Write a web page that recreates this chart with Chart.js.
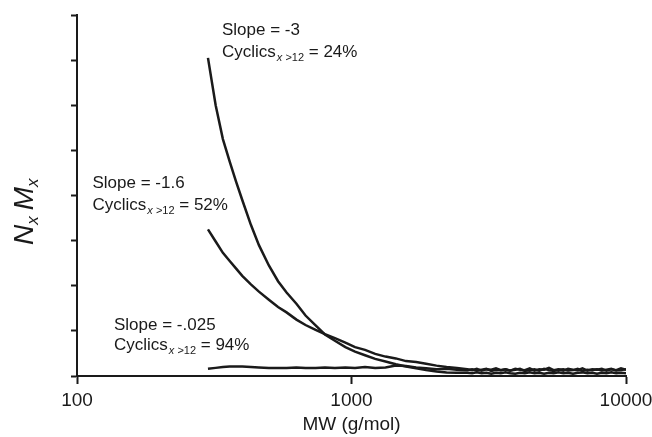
<!DOCTYPE html>
<html>
<head>
<meta charset="utf-8">
<script src="https://cdn.jsdelivr.net/npm/chart.js@4.4.1/dist/chart.umd.min.js"></script>
<style>
  body { margin: 0; background: #fff; }
  canvas { display: block; }
</style>
</head>
<body>
<canvas id="nmChart" width="652" height="437"></canvas>
<script>
// molecular weight grid (g/mol), shared by the three traces
const mw = [
  300, 320, 340, 360, 380, 400, 430, 460, 500, 540,
  580, 630, 680, 740, 800, 870, 950, 1030, 1120, 1220,
  1330, 1450, 1580, 1720, 1870, 2040, 2220, 2420,
  2640, 2750, 2860, 2980, 3100, 3230, 3360, 3500, 3640, 3790,
  3950, 4110, 4280, 4460, 4640, 4830, 5030, 5240, 5450, 5680,
  5910, 6150, 6410, 6670, 6940, 7230, 7530, 7840, 8160, 8490,
  8840, 9210, 9590, 10000
];

// Nx*Mx
const slopeMinus3 = [
  7.05, 6.0, 5.25, 4.75, 4.3, 3.9, 3.35, 2.9, 2.45, 2.1,
  1.85, 1.6, 1.34, 1.12, 0.92, 0.78, 0.64, 0.54, 0.46, 0.38,
  0.32, 0.26, 0.21, 0.17, 0.13, 0.10, 0.08, 0.07,
  0.07, 0.06, 0.08, 0.06, 0.07, 0.05, 0.07, 0.06, 0.08, 0.06,
  0.05, 0.07, 0.06, 0.08, 0.06, 0.07, 0.05, 0.07, 0.06, 0.08,
  0.06, 0.07, 0.05, 0.07, 0.08, 0.06, 0.07, 0.05, 0.07, 0.06,
  0.08, 0.06, 0.07, 0.06
];
const slopeMinus16 = [
  3.25, 2.98, 2.73, 2.55, 2.38, 2.22, 2.03, 1.87, 1.69, 1.53,
  1.41, 1.25, 1.13, 1.02, 0.93, 0.84, 0.74, 0.64, 0.58, 0.49,
  0.43, 0.39, 0.33, 0.31, 0.27, 0.23, 0.20, 0.18,
  0.15, 0.13, 0.16, 0.12, 0.15, 0.14, 0.17, 0.13, 0.15, 0.12,
  0.16, 0.14, 0.13, 0.17, 0.12, 0.15, 0.14, 0.18, 0.13, 0.15,
  0.12, 0.16, 0.14, 0.13, 0.17, 0.12, 0.15, 0.14, 0.16, 0.12,
  0.15, 0.13, 0.17, 0.14
];
const slopeMinus025 = [
  0.16, 0.18, 0.20, 0.21, 0.21, 0.21, 0.20, 0.19, 0.18, 0.18,
  0.18, 0.19, 0.18, 0.18, 0.19, 0.18, 0.19, 0.18, 0.20, 0.18,
  0.19, 0.23, 0.22, 0.19, 0.17, 0.15, 0.16, 0.14,
  0.13, 0.15, 0.12, 0.14, 0.16, 0.11, 0.14, 0.13, 0.15, 0.12,
  0.14, 0.16, 0.11, 0.13, 0.15, 0.12, 0.16, 0.13, 0.11, 0.14,
  0.15, 0.12, 0.13, 0.16, 0.11, 0.14, 0.13, 0.15, 0.12, 0.14,
  0.16, 0.12, 0.13, 0.15
];

const xTicks = [100, 1000, 10000];
const slopeLabels = ['Slope = -3', 'Slope = -1.6', 'Slope = -.025'];
const cyclicValues = ['24%', '52%', '94%'];

const FONT = '"Liberation Sans", Arial, sans-serif';
const INK = '#1a1a1a';

function toPoints(ys) {
  return mw.map((m, i) => ({ x: m, y: ys[i] }));
}

function lineSet(ys) {
  return {
    data: toPoints(ys),
    borderColor: INK,
    borderWidth: 2.5,
    pointRadius: 0,
    tension: 0,
    fill: false
  };
}

// "Cyclics_{x >12} = NN%" with the subscript drawn smaller and lower
function drawCyclics(ctx, x, y, pct) {
  ctx.font = '17px ' + FONT;
  ctx.fillText('Cyclics', x, y);
  x += ctx.measureText('Cyclics').width + 1;
  ctx.font = 'italic 11px ' + FONT;
  ctx.fillText('x', x, y + 4);
  x += ctx.measureText('x').width;
  ctx.font = '11px ' + FONT;
  ctx.fillText(' >12', x, y + 4);
  x += ctx.measureText(' >12').width;
  ctx.font = '17px ' + FONT;
  ctx.fillText(' = ' + pct, x, y);
}

const textPlugin = {
  id: 'textPlugin',
  afterDraw(chart) {
    const ctx = chart.ctx;
    ctx.save();
    ctx.fillStyle = INK;
    ctx.textBaseline = 'alphabetic';
    ctx.textAlign = 'left';

    const spots = [[222, 35, 56.5], [92.5, 188, 209.5], [114, 330, 350]];
    spots.forEach((s, i) => {
      ctx.font = '17px ' + FONT;
      ctx.fillText(slopeLabels[i], s[0], s[1]);
      drawCyclics(ctx, s[0], s[2], cyclicValues[i]);
    });

    // rotated y title: N_x M_x
    ctx.translate(33, 245);
    ctx.rotate(-Math.PI / 2);
    let x = 0;
    ctx.font = 'italic 28px ' + FONT;
    ctx.fillText('N', x, 0);
    x += ctx.measureText('N').width;
    ctx.font = 'italic 17px ' + FONT;
    ctx.fillText('x', x, 5);
    x += ctx.measureText('x').width + 6;
    ctx.font = 'italic 28px ' + FONT;
    ctx.fillText('M', x, 0);
    x += ctx.measureText('M').width;
    ctx.font = 'italic 17px ' + FONT;
    ctx.fillText('x', x, 5);
    ctx.restore();
  }
};

new Chart(document.getElementById('nmChart'), {
  type: 'line',
  data: {
    datasets: [lineSet(slopeMinus3), lineSet(slopeMinus16), lineSet(slopeMinus025)]
  },
  options: {
    responsive: false,
    animation: false,
    devicePixelRatio: 1,
    layout: { padding: { top: 15, right: 0, left: 0, bottom: 0 } },
    plugins: { legend: { display: false }, tooltip: { enabled: false } },
    scales: {
      x: {
        type: 'logarithmic',
        min: 100,
        max: 10000,
        afterBuildTicks: scale => { scale.ticks = xTicks.map(v => ({ value: v })); },
        afterFit: scale => {
          scale.height = 61;
          scale.paddingLeft = 0;
          scale.paddingRight = 26;
        },
        grid: {
          drawOnChartArea: false,
          drawTicks: true,
          tickLength: 8,
          tickWidth: 2,
          tickColor: INK
        },
        border: { display: true, color: INK, width: 2 },
        ticks: {
          callback: v => String(v),
          color: INK,
          padding: 5,
          maxRotation: 0,
          font: { family: FONT, size: 19 }
        },
        title: {
          display: true,
          text: 'MW (g/mol)',
          color: INK,
          padding: { top: 0, bottom: 1 },
          font: { family: FONT, size: 19 }
        }
      },
      y: {
        min: 0,
        max: 8,
        afterFit: scale => { scale.width = 77; },
        grid: {
          drawOnChartArea: false,
          drawTicks: true,
          tickLength: 6,
          tickWidth: 2,
          tickColor: INK
        },
        border: { display: true, color: INK, width: 2 },
        ticks: { display: false, stepSize: 1 }
      }
    }
  },
  plugins: [textPlugin]
});
</script>
</body>
</html>
